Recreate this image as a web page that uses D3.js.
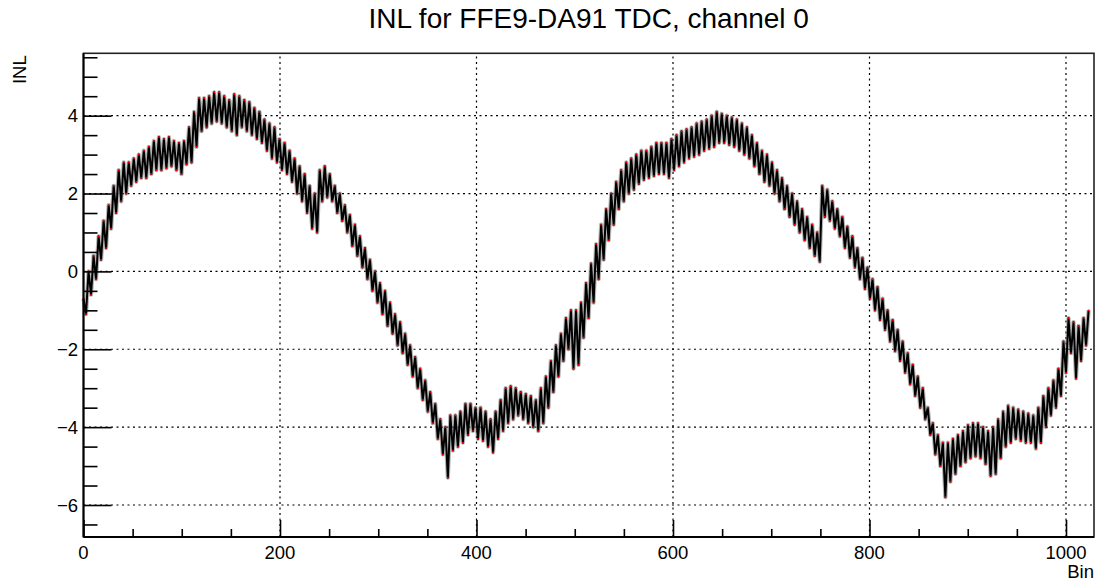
<!DOCTYPE html>
<html><head><meta charset="utf-8">
<script src="https://cdn.jsdelivr.net/npm/d3@7"></script>
<style>
html,body{margin:0;padding:0;background:#fff;}
svg{display:block;font-family:"Liberation Sans",Arial,Helvetica,sans-serif;}
</style></head>
<body><svg id="c" width="1099" height="585"></svg>
<script>
// ---- data ----
const title = "INL for FFE9-DA91 TDC, channel 0";
const xLabel = "Bin";
const yLabel = "INL";
const xMajorTicks = [0, 200, 400, 600, 800, 1000];
const xTickLabels = ["0", "200", "400", "600", "800", "1000"];
const yMajorTicks = [-6, -4, -2, 0, 2, 4];
const yTickLabels = ["\u22126", "\u22124", "\u22122", "0", "2", "4"];
const xMinorTicks = [50, 100, 150, 250, 300, 350, 450, 500, 550, 650, 700, 750, 850, 900, 950];
const yMinorTicks = [-6.5, -5.5, -5, -4.5, -3.5, -3, -2.5, -1.5, -1, -0.5, 0.5, 1, 1.5, 2.5, 3, 3.5, 4.5, 5, 5.5];
const binRange = [0, 1023];
// upper tips of the zig-zag, one per ~5.1-bin cycle
const peakVals = [
 -0.7, 0.0, 0.4, 0.9, 1.3, 1.7, 2.2, 2.6, 2.8, 2.8,
 2.9, 3.0, 3.1, 3.2, 3.35, 3.45, 3.4, 3.45, 3.35, 3.3,
 3.35, 3.7, 4.1, 4.45, 4.45, 4.5, 4.6, 4.6, 4.5, 4.4,
 4.55, 4.5, 4.4, 4.35, 4.2, 4.1, 3.9, 3.8, 3.7, 3.4,
 3.3, 3.1, 2.9, 2.7, 2.5, 2.2, 2.0, 2.6, 2.7, 2.5,
 2.2, 2.0, 1.7, 1.45, 1.2, 0.9, 0.6, 0.3, 0.0, -0.3,
 -0.5, -0.8, -1.1, -1.3, -1.6, -1.9, -2.2, -2.5, -2.8, -3.1,
 -3.4, -3.8, -4.0, -3.7, -3.7, -3.6, -3.4, -3.4, -3.5, -3.5,
 -3.6, -3.8, -3.6, -3.3, -3.0, -2.95, -3.0, -3.1, -3.15, -3.2,
 -3.3, -3.0, -2.7, -2.3, -1.9, -1.6, -1.2, -1.0, -1.0, -0.8,
 -0.3, 0.2, 0.7, 1.2, 1.6, 2.0, 2.3, 2.6, 2.8, 2.9,
 3.0, 3.1, 3.1, 3.2, 3.3, 3.3, 3.3, 3.4, 3.5, 3.6,
 3.65, 3.7, 3.8, 3.85, 3.9, 4.0, 4.1, 4.05, 4.0, 3.95,
 3.9, 3.8, 3.7, 3.5, 3.3, 3.1, 3.0, 2.8, 2.6, 2.4,
 2.2, 2.0, 1.8, 1.6, 1.4, 1.2, 1.0, 2.2, 2.1, 1.8,
 1.6, 1.4, 1.15, 0.9, 0.6, 0.35, 0.1, -0.2, -0.4, -0.7,
 -1.0, -1.25, -1.5, -1.8, -2.1, -2.4, -2.7, -3.0, -3.5, -3.9,
 -4.2, -4.4, -4.4, -4.3, -4.2, -4.1, -3.95, -3.9, -3.9, -4.0,
 -4.1, -4.0, -3.8, -3.6, -3.45, -3.5, -3.55, -3.6, -3.65, -3.7,
 -3.5, -3.2, -3.0, -2.8, -2.5, -1.8, -1.2, -1.3, -1.4, -1.2,
 -1.0
];
// lower tips of the zig-zag, half a cycle after each upper tip
const troughVals = [
 -1.1, -0.6, -0.2, 0.3, 0.6, 1.1, 1.5, 1.8, 2.0, 2.2,
 2.3, 2.4, 2.4, 2.5, 2.6, 2.6, 2.65, 2.7, 2.6, 2.5,
 2.75, 2.8, 3.2, 3.6, 3.7, 3.8, 3.85, 3.8, 3.7, 3.6,
 3.5, 3.7, 3.6, 3.5, 3.4, 3.3, 3.1, 2.9, 2.8, 2.6,
 2.5, 2.3, 2.0, 1.8, 1.5, 1.1, 1.0, 1.8, 1.9, 1.8,
 1.5, 1.3, 1.0, 0.65, 0.4, 0.1, -0.2, -0.5, -0.8, -1.1,
 -1.4, -1.6, -1.9, -2.1, -2.4, -2.7, -3.0, -3.3, -3.6, -3.9,
 -4.3, -4.7, -5.3, -4.6, -4.5, -4.4, -4.2, -4.1, -4.3, -4.35,
 -4.5, -4.65, -4.3, -4.1, -3.9, -3.8, -3.7, -3.8, -3.9, -4.0,
 -4.1, -3.9, -3.5, -3.1, -2.7, -2.3, -2.0, -2.5, -2.4, -1.7,
 -1.2, -0.8, -0.2, 0.3, 0.8, 1.2, 1.6, 1.8, 2.0, 2.1,
 2.25, 2.35, 2.4, 2.45, 2.5, 2.5, 2.4, 2.6, 2.7, 2.8,
 2.9, 2.95, 3.0, 3.1, 3.15, 3.2, 3.3, 3.3, 3.25, 3.2,
 3.1, 3.0, 2.9, 2.7, 2.5, 2.3, 2.2, 2.0, 1.8, 1.6,
 1.4, 1.2, 1.0, 0.8, 0.6, 0.4, 0.25, 1.4, 1.3, 1.1,
 0.9, 0.6, 0.35, 0.1, -0.2, -0.45, -0.7, -1.0, -1.25, -1.5,
 -1.8, -2.05, -2.3, -2.6, -2.9, -3.2, -3.5, -3.8, -4.2, -4.7,
 -5.0, -5.8, -5.4, -5.2, -5.0, -4.9, -4.8, -4.75, -4.8, -4.95,
 -5.25, -5.2, -4.8, -4.5, -4.4, -4.3, -4.35, -4.4, -4.4, -4.55,
 -4.4, -4.0, -3.7, -3.5, -3.2, -2.6, -2.1, -2.75, -2.3, -1.9
];

// ---- build points ----
const nCycles = peakVals.length - 1;
const cycleToBin = d3.scaleLinear().domain([0, nCycles]).range(binRange);
const pts = [];
peakVals.forEach((v, i) => {
  pts.push({ bin: cycleToBin(i), v: v });
  if (i < troughVals.length) pts.push({ bin: cycleToBin(i + 0.5), v: troughVals[i] });
});

// ---- layout ----
const L = 83.5, R = 1094, T = 53.3, B = 537;
const x = d3.scaleLinear().domain([0, 1028.5]).range([L, R]);
const y = d3.scaleLinear().domain([-6.822, 5.602]).range([B, T]);
const svg = d3.select("#c");

// grid
const grid = svg.append("g").attr("stroke", "#000").attr("stroke-width", 1.2)
  .attr("stroke-dasharray", "2,3.5").attr("fill", "none");
grid.selectAll("line.gx").data(xMajorTicks.filter(d => d > 0)).join("line")
  .attr("x1", d => x(d)).attr("x2", d => x(d)).attr("y1", B).attr("y2", T);
grid.selectAll("line.gy").data(yMajorTicks).join("line")
  .attr("y1", d => y(d)).attr("y2", d => y(d)).attr("x1", L).attr("x2", R);

// data line
const line = d3.line().x(d => x(d.bin)).y(d => y(d.v));
svg.append("path").datum(pts).attr("d", line)
  .attr("fill", "none").attr("stroke", "#777").attr("stroke-width", 4.2).attr("stroke-opacity", 0.55)
  .attr("stroke-linejoin", "round");
svg.append("path").datum(pts).attr("d", line)
  .attr("fill", "none").attr("stroke", "#000").attr("stroke-width", 2).attr("stroke-linejoin", "round");
svg.append("g").selectAll("rect").data(pts).join("rect")
  .attr("x", d => x(d.bin) - 0.8).attr("y", d => y(d.v) - 0.8)
  .attr("width", 1.6).attr("height", 1.6).attr("fill", "#ff0000");

// frame
svg.append("rect").attr("x", L).attr("y", T).attr("width", R - L).attr("height", B - T)
  .attr("fill", "none").attr("stroke", "#222").attr("stroke-width", 1.6);

// axes via d3 axis generators
const xAxisMajor = d3.axisTop(x).tickValues(xMajorTicks).tickSize(17).tickFormat(() => "");
const xAxisMinor = d3.axisTop(x).tickValues(xMinorTicks).tickSize(8).tickFormat(() => "");
const yAxisMajor = d3.axisRight(y).tickValues(yMajorTicks).tickSize(28).tickFormat(() => "");
const yAxisMinor = d3.axisRight(y).tickValues(yMinorTicks).tickSize(14).tickFormat(() => "");
function styleAxis(g){ g.select(".domain").remove(); g.selectAll("line").attr("stroke", "#000").attr("stroke-width", 1.6); }
svg.append("g").attr("transform", `translate(0,${B})`).call(xAxisMajor).call(styleAxis);
svg.append("g").attr("transform", `translate(0,${B})`).call(xAxisMinor).call(styleAxis);
svg.append("g").attr("transform", `translate(${L},0)`).call(yAxisMajor).call(styleAxis);
svg.append("g").attr("transform", `translate(${L},0)`).call(yAxisMinor).call(styleAxis);
svg.append("line").attr("x1", L).attr("x2", R).attr("y1", B).attr("y2", B).attr("stroke", "#000").attr("stroke-width", 2);
svg.append("line").attr("x1", L).attr("x2", L).attr("y1", T).attr("y2", B).attr("stroke", "#000").attr("stroke-width", 2);

// tick labels
svg.append("g").selectAll("text").data(xMajorTicks).join("text")
  .attr("x", d => x(d)).attr("y", 558.5).attr("text-anchor", "middle")
  .attr("font-size", 18.5).attr("fill", "#000").text((d, i) => xTickLabels[i]);
svg.append("g").selectAll("text").data(yMajorTicks).join("text")
  .attr("x", 78).attr("y", d => y(d)).attr("dy", "0.36em").attr("text-anchor", "end")
  .attr("font-size", 18.5).attr("fill", "#000").text((d, i) => yTickLabels[i]);

// axis titles
svg.append("text").attr("x", R).attr("y", 578).attr("text-anchor", "end")
  .attr("font-size", 18.5).attr("fill", "#000").text(xLabel);
svg.append("text").attr("transform", `translate(26,${T + 2}) rotate(-90)`).attr("text-anchor", "end")
  .attr("font-size", 18.5).attr("fill", "#000").text(yLabel);

// title
svg.append("text").attr("x", (L + R) / 2).attr("y", 27.5).attr("text-anchor", "middle")
  .attr("font-size", 28).attr("fill", "#000").text(title);
</script></body></html>
